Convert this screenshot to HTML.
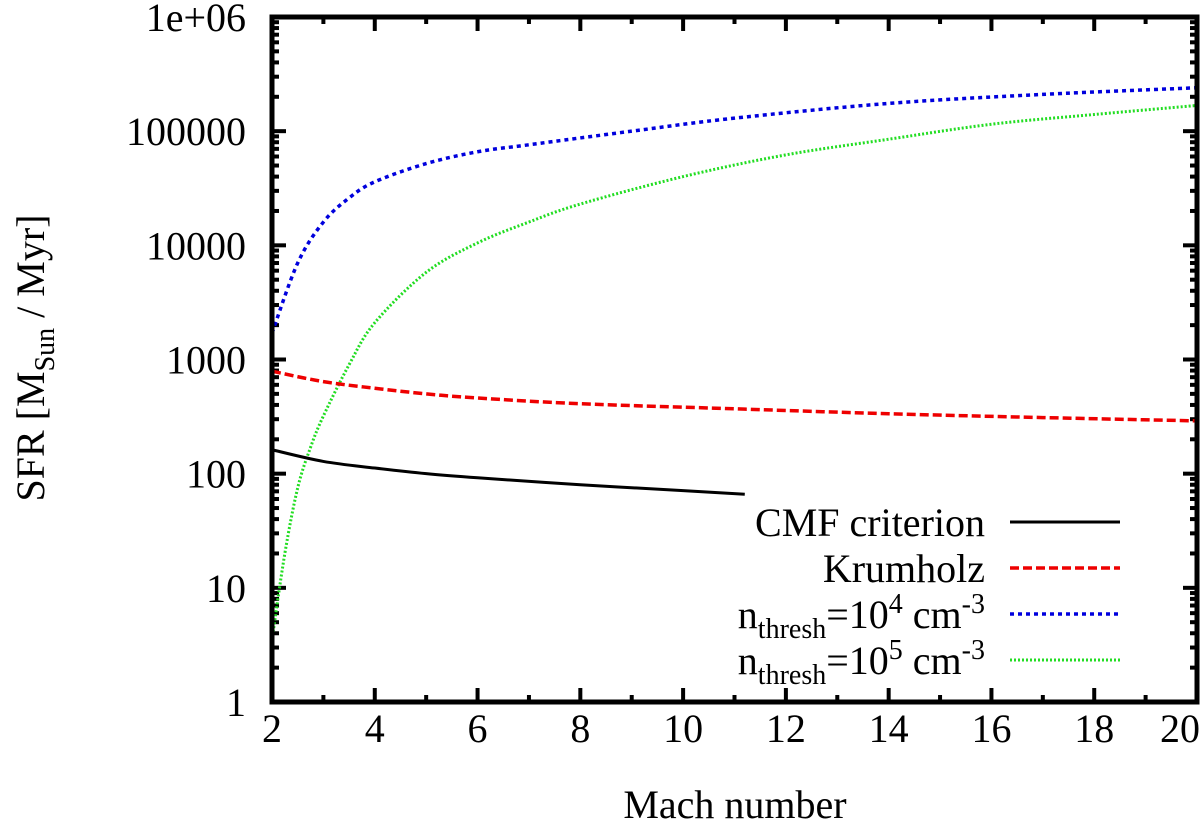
<!DOCTYPE html>
<html><head><meta charset="utf-8"><style>
body{margin:0;background:#fff}
svg{display:block;font-family:"Liberation Serif",serif}
</style></head><body>
<svg id="chart" width="1200" height="832" viewBox="0 0 1200 832">
<g id="plot"></g>
<g font-family="Liberation Serif, serif" font-size="40">
 <text x="985" y="536" text-anchor="end">CMF criterion</text>
 <line x1="1010" x2="1120" y1="522" y2="522" stroke="#000" stroke-width="3"/>
 <text x="985" y="582" text-anchor="end">Krumholz</text>
 <line x1="1010" x2="1120" y1="568" y2="568" stroke="#ee0000" stroke-width="3.5" stroke-dasharray="9,4"/>
 <text x="985" y="628" text-anchor="end">n<tspan font-size="28" dy="10">thresh</tspan><tspan dy="-10">=10</tspan><tspan font-size="28" dy="-15">4</tspan><tspan dy="15"> cm</tspan><tspan font-size="28" dy="-15">-3</tspan></text>
 <line x1="1010" x2="1120" y1="614" y2="614" stroke="#0000dd" stroke-width="3.5" stroke-dasharray="4,4"/>
 <text x="985" y="674" text-anchor="end">n<tspan font-size="28" dy="10">thresh</tspan><tspan dy="-10">=10</tspan><tspan font-size="28" dy="-15">5</tspan><tspan dy="15"> cm</tspan><tspan font-size="28" dy="-15">-3</tspan></text>
 <line x1="1010" x2="1120" y1="660" y2="660" stroke="#22dd22" stroke-width="3" stroke-dasharray="2,2"/>
</g>
<text x="735" y="818" font-family="Liberation Serif, serif" font-size="40" text-anchor="middle">Mach number</text>
<text transform="translate(44,358) rotate(-90)" font-family="Liberation Serif, serif" font-size="40" text-anchor="middle">SFR [M<tspan font-size="28" dy="10">Sun</tspan><tspan dy="-10"> / Myr]</tspan></text>
</svg>
<script>
const cmfX=[2,3,4,5,6,8,10,11.2];
const cmfY=[162,128,112,100,92,80,71,66];
const krumX=[2,3,4,5,6,8,11,14,17,20];
const krumY=[790,640,560,500,460,410,370,335,310,290];
const n4X=[2,2.5,3,3.5,4,5,6,7,9,11,14,17,20];
const n4Y=[1700,7000,16000,26000,36000,52000,66000,76000,100000,130000,175000,210000,240000];
const n5X=[2,2.25,2.5,2.75,3,3.5,4,5,6,7,8,10,12,14,16,18,20];
const n5Y=[3.5,20,75,170,320,900,2100,5800,10500,16000,23000,40000,62000,85000,115000,140000,168000];
const xTicks=[2,4,6,8,10,12,14,16,18,20];
const yTickVals=[1,10,100,1000,10000,100000,1000000];
const yTickLabels=["1","10","100","1000","10000","100000","1e+06"];

const L=272,R=1197,T=17,B=702;
const xs=v=>L+(v-2)/18*(R-L);
const ys=v=>B-Math.log10(v)/6*(B-T);
const NS="http://www.w3.org/2000/svg";
const g=document.getElementById('plot');
function el(t,a,p){const e=document.createElementNS(NS,t);for(const k in a)e.setAttribute(k,a[k]);(p||g).appendChild(e);return e;}

xTicks.forEach((v,i)=>{
  const t=el('line',{x1:xs(v),x2:xs(v),y1:B,y2:B-14,stroke:'#000','stroke-width':4});
  
  
  el('line',{x1:xs(v),x2:xs(v),y1:T,y2:T+14,stroke:'#000','stroke-width':4});
  const last=i===xTicks.length-1;
  const tx=el('text',{x:last?1200:xs(v),y:742,'font-size':40,'text-anchor':last?'end':'middle'});
  tx.textContent=v;
  
  
});
for(let v=3;v<20;v+=2){
  el('line',{x1:xs(v),x2:xs(v),y1:B,y2:B-7,stroke:'#000','stroke-width':4});
  el('line',{x1:xs(v),x2:xs(v),y1:T,y2:T+7,stroke:'#000','stroke-width':4});
}
yTickVals.forEach((v,i)=>{
  el('line',{x1:L,x2:L+14,y1:ys(v),y2:ys(v),stroke:'#000','stroke-width':4});
  el('line',{x1:R,x2:R-14,y1:ys(v),y2:ys(v),stroke:'#000','stroke-width':4});
  const tx=el('text',{x:246,y:ys(v)+14,'font-size':40,'text-anchor':'end'});
  tx.textContent=yTickLabels[i];
  
  
  if(v<1e6)for(let m=2;m<10;m++){
    el('line',{x1:L,x2:L+7,y1:ys(v*m),y2:ys(v*m),stroke:'#000','stroke-width':4});
    el('line',{x1:R,x2:R-7,y1:ys(v*m),y2:ys(v*m),stroke:'#000','stroke-width':4});
  }
});

function curve(X,Y,name,color,dash,w){
  const P=X.map((x,i)=>[xs(x),ys(Y[i])]);
  let d='M'+P[0][0]+','+P[0][1];
  for(let i=0;i<P.length-1;i++){
    const p0=P[i-1]||P[i],p1=P[i],p2=P[i+1],p3=P[i+2]||p2;
    const c1=[p1[0]+(p2[0]-p0[0])/6,p1[1]+(p2[1]-p0[1])/6];
    const c2=[p2[0]-(p3[0]-p1[0])/6,p2[1]-(p3[1]-p1[1])/6];
    d+=`C${c1[0]},${c1[1]} ${c2[0]},${c2[1]} ${p2[0]},${p2[1]}`;
  }
  const p=el('path',{d:d,fill:'none',stroke:color,'stroke-width':w});
  if(dash)p.setAttribute('stroke-dasharray',dash);
  
  
}
curve(n5X,n5Y,'series-n-thresh-1e5','#22dd22','2,2',3);
curve(n4X,n4Y,'series-n-thresh-1e4','#0000dd','4,4',3.5);
curve(krumX,krumY,'series-krumholz','#ee0000','9,4',3.5);
curve(cmfX,cmfY,'series-cmf-criterion','#000','',3);

el('rect',{x:L,y:T,width:R-L,height:B-T,fill:'none',stroke:'#000','stroke-width':5});
</script>
</body></html>
